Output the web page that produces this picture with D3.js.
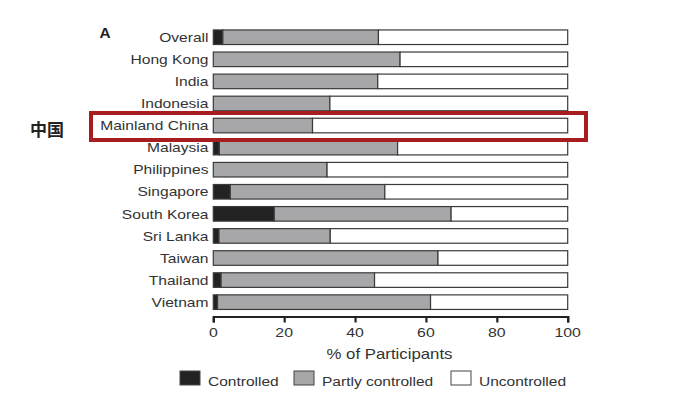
<!DOCTYPE html>
<html><head><meta charset="utf-8">
<script src="https://cdn.jsdelivr.net/npm/d3@7"></script>
<style>body{margin:0;background:#fff;}svg{display:block;font-family:"Liberation Sans",Arial,sans-serif;}</style>
</head><body>
<svg id="c" width="700" height="395"></svg>
<script>
const categories = ["Overall","Hong Kong","India","Indonesia","Mainland China","Malaysia","Philippines","Singapore","South Korea","Sri Lanka","Taiwan","Thailand","Vietnam"];
const controlled = [2.7,0,0,0,0,1.7,0,4.8,17.2,1.6,0,2.2,1.2];
const partly     = [43.9,52.7,46.4,32.9,28.0,50.3,32.1,43.6,49.9,31.4,63.4,43.3,60.1];
const seriesNames = ["Controlled","Partly controlled","Uncontrolled"];
const xTicks = [0,20,40,60,80,100];

const colors = ["#222222","#a7a7a9","#ffffff"];
const svg = d3.select("#c");
const x = d3.scaleLinear().domain([0,100]).range([213.3,567.7]);
const y = d3.scaleBand().domain(categories).range([26.2,313.2]).paddingInner(0.34).paddingOuter(0.17);

// stretched text helper (reference text is horizontally widened)
function stext(parent, tx, ty, str, opts) {
  const sx = opts.sx || 1.2;
  const t = parent.append("text")
    .attr("transform", `translate(${tx},${ty}) scale(${sx},1)`)
    .attr("x",0).attr("y",0)
    .attr("font-size", opts.size || 13)
    .attr("fill", opts.fill || "#333")
    .attr("text-anchor", opts.anchor || "start")
    .attr("dy", opts.dy || "0.36em")
    .text(str);
  if (opts.weight) t.attr("font-weight", opts.weight);
  if (opts.family) t.attr("font-family", opts.family);
  return t;
}

const g = svg.append("g");
categories.forEach((c,i)=>{
  const a = controlled[i], b = partly[i];
  const segs = [[0,a],[a,a+b],[a+b,100]];
  segs.forEach((s,k)=>{
    if (s[1]-s[0] <= 0) return;
    g.append("rect")
      .attr("x",x(s[0])).attr("y",y(c))
      .attr("width",x(s[1])-x(s[0])).attr("height",y.bandwidth())
      .attr("fill",colors[k]).attr("stroke","#3a3a3a").attr("stroke-width",1.2);
  });
});

// category labels
const lg = svg.append("g");
categories.forEach(c=>{
  stext(lg, 208.5, y(c)+y.bandwidth()/2, c, {anchor:"end", size:13, sx:1.2});
});

// x axis
const ax = svg.append("g").attr("transform","translate(0,316.5)")
  .call(d3.axisBottom(x).tickValues(xTicks).tickSize(6).tickFormat(""));
ax.select(".domain").attr("stroke","#222").attr("stroke-width",2.2);
ax.selectAll(".tick line").attr("stroke","#222").attr("stroke-width",2.2);
const tg = svg.append("g");
xTicks.forEach(v=>{
  stext(tg, x(v), 332.5, d3.format("d")(v), {anchor:"middle", size:13, sx:1.22});
});

stext(svg, 389.5, 353.5, "% of Participants", {anchor:"middle", size:14, sx:1.2});

// legend
const legX = [180,294,451];
seriesNames.forEach((n,i)=>{
  svg.append("rect").attr("x",legX[i]).attr("y",371).attr("width",20).attr("height",14)
    .attr("fill",colors[i]).attr("stroke","#444").attr("stroke-width",1);
  stext(svg, legX[i]+28, 381.5, n, {size:13.5, sx:1.15});
});

// panel label
stext(svg, 99.5, 33, "A", {size:14, weight:"bold", fill:"#222", sx:1.1});

// highlight box
svg.append("rect").attr("x",91).attr("y",113).attr("width",495).attr("height",27)
  .attr("fill","none").attr("stroke","#a81d1f").attr("stroke-width",4);
svg.append("text").attr("x",30).attr("y",136).attr("font-size",17).attr("font-weight","bold")
  .attr("font-family","Noto Sans CJK SC, sans-serif").attr("fill","#222").text("中国");
</script>
</body></html>
